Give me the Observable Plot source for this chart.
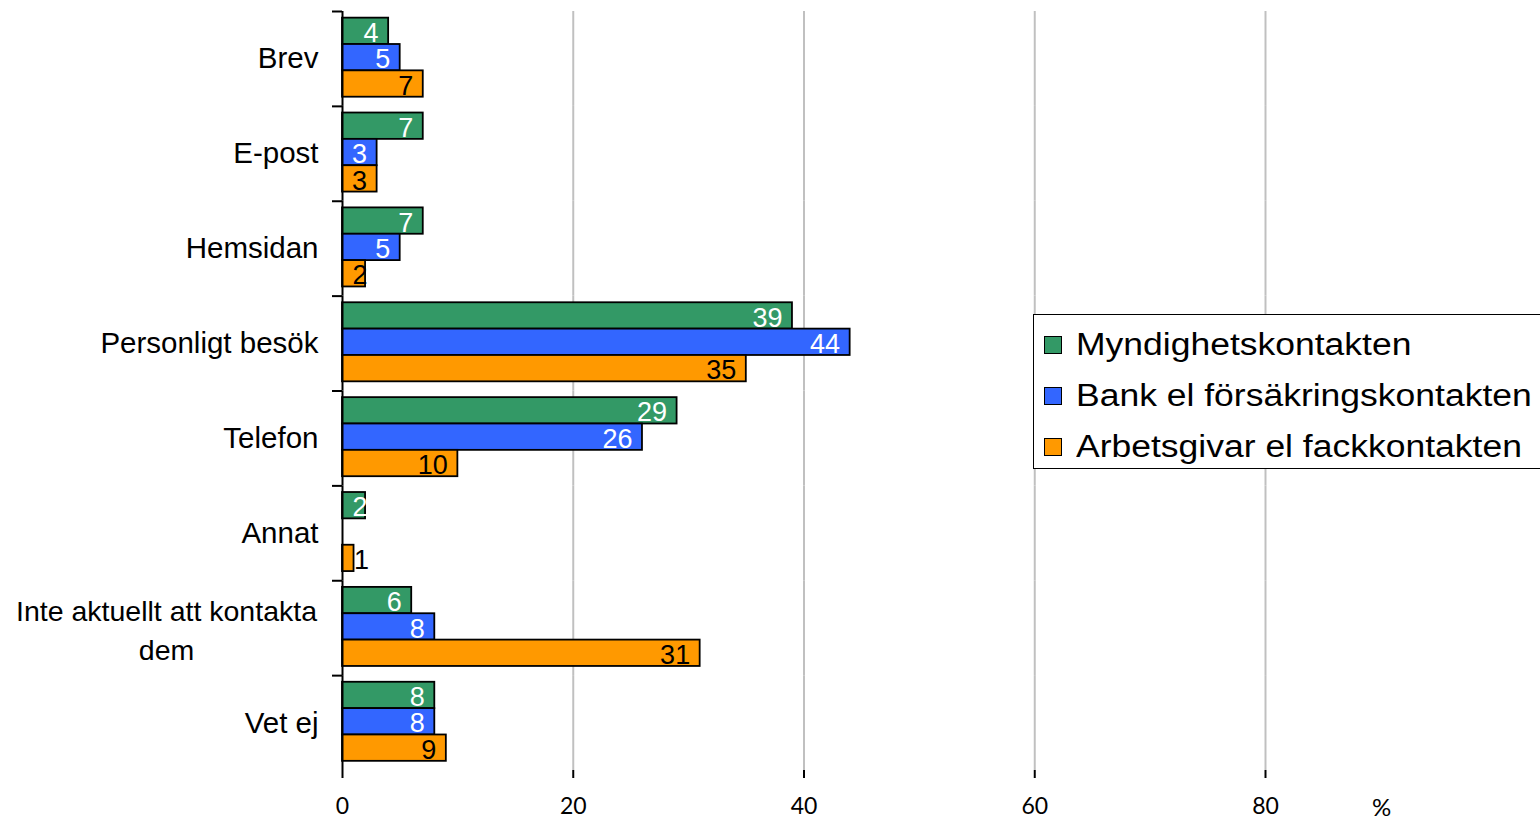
<!DOCTYPE html>
<html>
<head>
<meta charset="utf-8">
<script src="https://cdn.jsdelivr.net/npm/d3@7"></script>
<script src="https://cdn.jsdelivr.net/npm/@observablehq/plot@0.6"></script>
<style>
  html, body { margin: 0; padding: 0; background: #fff; overflow: hidden; }
  #chart { position: relative; width: 1540px; height: 819px; }
  .legend {
    position: absolute; left: 1033px; top: 314px; width: 540px; height: 155px;
    box-sizing: border-box; border: 1.5px solid #000; background: #fff;
    font-family: "Liberation Sans", Arial, sans-serif; font-size: 31px; color: #000;
  }
  .legend .row { position: absolute; left: 0; height: 50px; display: flex; align-items: center; white-space: nowrap; }
  .legend .sw { width: 18px; height: 18px; box-sizing: border-box; border: 1.5px solid #000; margin-left: 10px; margin-right: 14px; flex: none; }
  .legend .txt { display: inline-block; transform: scaleX(1.145); transform-origin: left center; }
</style>
</head>
<body>
<div id="chart"></div>
<script>
// Answer categories (a "\n" marks a label that wraps onto two centred lines)
const categories = ["Brev", "E-post", "Hemsidan", "Personligt besök", "Telefon", "Annat", "Inte aktuellt att kontakta\ndem", "Vet ej"];
const series = ["Myndighetskontakten", "Bank el försäkringskontakten", "Arbetsgivar el fackkontakten"];

// Percentages per series, in category order (null = no bar)
const myndighet = [4, 7, 7, 39, 29, 2, 6, 8];
const bank = [5, 3, 5, 44, 26, null, 8, 8];
const arbetsgivare = [7, 3, 2, 35, 10, 1, 31, 9];

const colors = ["#339966", "#3366FF", "#FF9900"];
const labelColors = ["white", "white", "black"];
const xTicks = [0, 20, 40, 60, 80];
const unitLabel = "%";

// Long-format table for the marks
const seriesValues = [myndighet, bank, arbetsgivare];
const rows = series.flatMap((s, si) =>
  categories.map((c, ci) => ({category: c, series: s, value: seriesValues[si][ci], labelColor: labelColors[si]}))
).filter(d => d.value != null);

// Frame layout
const W = 1540, H = 819, mL = 342, mR = 275, mT = 11, mB = 49;
const band = (H - mT - mB) / categories.length;
const FONT = "'Liberation Sans', Arial, Helvetica, sans-serif";
const TICKFONT = "Lato, 'Open Sans', sans-serif";

// Value labels: inside the bar end, or hanging past very short bars
const placements = [
  {test: v => v >= 3, anchor: "end", dx: -10},
  {test: v => v === 2, anchor: "end", dx: 2},
  {test: v => v < 2, anchor: "start", dx: 0}
];
const labelMarks = ["white", "black"].flatMap(color =>
  placements.map(p => Plot.text(rows.filter(d => d.labelColor === color && p.test(d.value)), {
    fy: "category", y: "series", x: "value",
    text: d => String(d.value),
    textAnchor: p.anchor, dx: p.dx, dy: 2,
    fill: color, fontSize: 27, fontFamily: FONT
  }))
);

const chart = Plot.plot({
  width: W, height: H,
  marginLeft: mL, marginRight: mR, marginTop: mT, marginBottom: mB,
  style: {fontFamily: FONT, background: "white", color: "black", overflow: "visible"},
  x: {domain: [0, 80], label: null},
  y: {domain: series, axis: null, paddingInner: 0, paddingOuter: 0.3, align: 0.42, round: false},
  fy: {domain: categories, padding: 0, label: null, round: false},
  color: {domain: series, range: colors},
  marks: [
    // vertical gridlines
    Plot.ruleX(xTicks.filter(v => v > 0), {stroke: "#c0c0c0", strokeWidth: 2}),
    // bars
    Plot.barX(rows, {fy: "category", y: "series", x: "value", fill: "series", stroke: "black", strokeWidth: 1.8}),
    ...labelMarks,
    // value axis line (left)
    Plot.ruleX([0], {stroke: "black", strokeWidth: 2}),
    // category labels
    Plot.axisFy({
      anchor: "left", tickSize: 0, tickPadding: 24, fontSize: 29.5, label: null,
      tickFormat: d => d.includes("\n") ? "" : d
    }),
    Plot.text(categories.filter(c => c.includes("\n")), {
      fy: d => d, text: d => d, frameAnchor: "left", textAnchor: "middle",
      dx: -176, fontSize: 28.5, lineHeight: 1.34, fill: "black"
    }),
    // tick marks at the boundaries between categories
    Plot.axisFy({anchor: "left", tickSize: 10, tickFormat: () => "", dy: -band / 2, strokeWidth: 2, label: null}),
    // bottom axis line
    Plot.ruleY([categories[categories.length - 1]], {fy: d => d, dy: band / 2, insetLeft: -10, stroke: "black", strokeWidth: 2}),
    // x axis
    Plot.axisX({ticks: xTicks, tickSize: 8, tickPadding: 19, fontSize: 23, fontFamily: TICKFONT, strokeWidth: 2, label: null}),
    // unit
    Plot.text([{category: categories[categories.length - 1], unit: unitLabel}], {
      fy: "category", text: "unit", frameAnchor: "bottom-right", lineAnchor: "top",
      textAnchor: "middle", dx: 116, dy: 28, fontSize: 24, fontFamily: TICKFONT, fill: "black"
    })
  ]
});

const root = document.getElementById("chart");
root.appendChild(chart);

// Legend box
const legend = document.createElement("div");
legend.className = "legend";
series.forEach((s, i) => {
  const row = document.createElement("div");
  row.className = "row";
  row.style.top = (5 + i * 51) + "px";
  const sw = document.createElement("span");
  sw.className = "sw";
  sw.style.background = colors[i];
  const txt = document.createElement("span");
  txt.className = "txt";
  txt.textContent = s;
  row.appendChild(sw);
  row.appendChild(txt);
  legend.appendChild(row);
});
root.appendChild(legend);
</script>
</body>
</html>
